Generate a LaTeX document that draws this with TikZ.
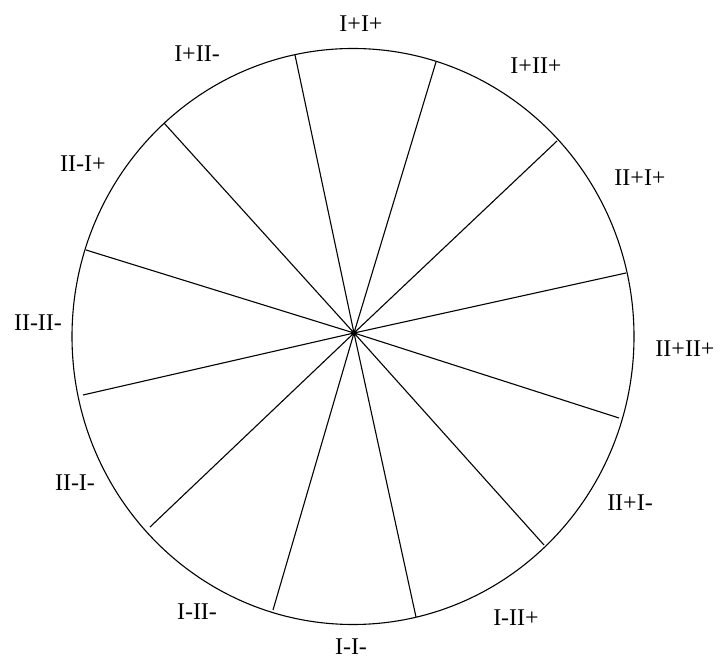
\documentclass[tikz,border=0pt]{standalone}
\usepackage{fontspec}
\setmainfont{Liberation Serif}
\begin{document}
\begin{tikzpicture}[x=1pt,y=1pt,
  lbl/.style={font=\fontsize{24}{24}\selectfont, inner sep=0pt, anchor=center},
  spoke/.style={line width=1.1pt, black},
  rim/.style={line width=1.1pt, black}]
\useasboundingbox (0,0) rectangle (722,661);
\draw[rim] (353,324.5) ellipse [x radius=281, y radius=288];
\coordinate (c) at (354,328);
\coordinate (p1) at (295,606);
\coordinate (p2) at (436,599);
\coordinate (p3) at (557,520);
\coordinate (p4) at (626,388);
\coordinate (p5) at (619,243);
\coordinate (p6) at (544,116);
\coordinate (p7) at (416,44);
\coordinate (p8) at (273,51);
\coordinate (p9) at (150,134);
\coordinate (p10) at (83,266);
\coordinate (p11) at (86,411);
\coordinate (p12) at (164,538);
\foreach \i in {1,...,12} \draw[spoke] (c) -- (p\i);
\fill (c) circle (3);
\node[lbl] (l1) at (361,637) {I+I+};
\node[lbl] (l2) at (536,595) {I+II+};
\node[lbl] (l3) at (640,483) {II+I+};
\node[lbl] (l4) at (685,312) {II+II+};
\node[lbl] (l5) at (630,158) {II+I-};
\node[lbl] (l6) at (516,43) {I-II+};
\node[lbl] (l7) at (351,14) {I-I-};
\node[lbl] (l8) at (197,49) {I-II-};
\node[lbl] (l9) at (75,178) {II-I-};
\node[lbl] (l10) at (38,338) {II-II-};
\node[lbl] (l11) at (83,497) {II-I+};
\node[lbl] (l12) at (197,607) {I+II-};
\end{tikzpicture}
\end{document}
